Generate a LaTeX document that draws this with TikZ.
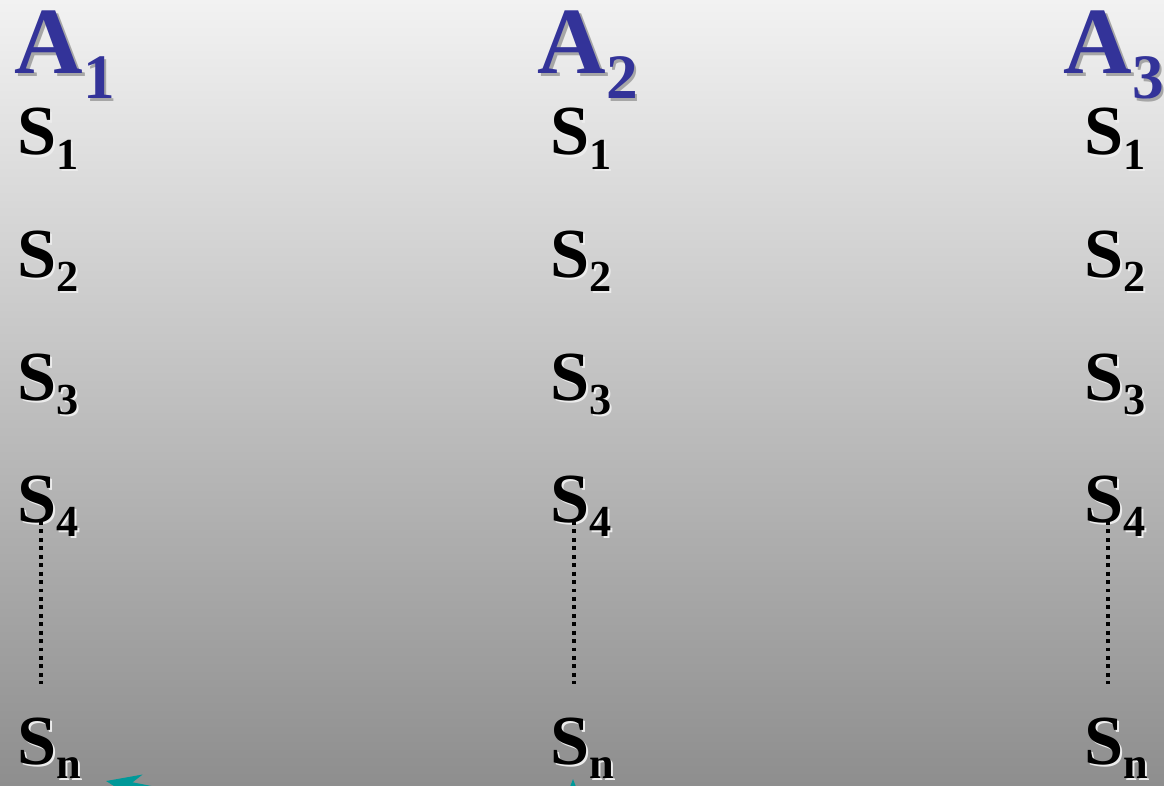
\documentclass[tikz,border=0pt]{standalone}
\usepackage{fontspec}
\setmainfont{Liberation Serif}
\usepackage{xcolor}
\usetikzlibrary{arrows.meta}

\definecolor{titleblue}{RGB}{51,51,153}
\definecolor{bgtop}{RGB}{242,242,242}
\definecolor{bgbottom}{RGB}{142,142,142}
\definecolor{arrowteal}{RGB}{0,153,153}

% letters with a lowered index
\newcommand{\actsym}[1]{\fontsize{27}{27}\selectfont A\raisebox{-7pt}{\fontsize{18}{18}\selectfont #1}}
\newcommand{\statesym}[1]{\fontsize{20}{20}\selectfont S\raisebox{-4.2pt}{\fontsize{12.6}{13}\selectfont #1}}

\begin{document}
\begin{tikzpicture}[x=0.01cm, y=-0.01cm,
    lbl/.style={anchor=base west, inner sep=0pt, font=\bfseries},
    actlbl/.style={lbl, text=titleblue},
    actshadow/.style={lbl, text=black!35},
    statelbl/.style={lbl, text=black},
    stateshadow/.style={lbl, text=white!85!gray},
    dotline/.style={line width=1.1pt, dash pattern=on 1.1pt off 1.3pt},
    tealarrow/.style={arrowteal, line width=2.2pt, -{Stealth[length=0.34cm, width=0.26cm]}}]
    % Nền chuyển màu
    \useasboundingbox (0,0) rectangle (1164,785);
    \shade[top color=bgtop, bottom color=bgbottom] (0,0) rectangle (1164,785);
    \clip (0,0) rectangle (1164,785);

    % Các cột A_1, A_2, A_3
    \foreach \c/\ax/\sx in {1/14/17, 2/537/550, 3/1063/1084} {
        \node[actshadow] at (\ax+2.5,74+2.5) {\actsym{\c}};
        \node[actlbl] (a\c) at (\ax,74) {\actsym{\c}};
        \foreach \r/\yy in {1/155, 2/277, 3/400, 4/522, n/764} {
            \node[stateshadow] at (\sx+2,\yy+2) {\statesym{\r}};
            \node[statelbl] (s\c-\r) at (\sx,\yy) {\statesym{\r}};
        }
        % Dấu chấm giữa S_4 và S_n
        \draw[dotline] ([xshift=0.24cm, yshift=0.01cm]s\c-4.base west) -- ++(0,163);
    }

    % Mũi tên
    \coordinate (tail1) at (330,825);
    \coordinate (tip1) at (106,781);
    \coordinate (tail2) at (573,860);
    \coordinate (tip2) at (573,779);
    \draw[tealarrow] (tail1) -- (tip1);
    \draw[tealarrow] (tail2) -- (tip2);
\end{tikzpicture}
\end{document}
